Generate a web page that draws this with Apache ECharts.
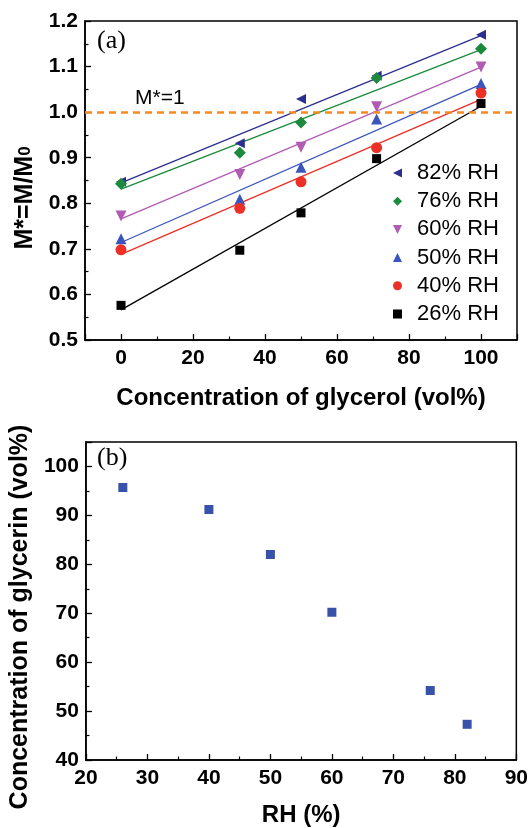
<!DOCTYPE html>
<html>
<head>
<meta charset="utf-8">
<script src="https://cdn.jsdelivr.net/npm/echarts@6/dist/echarts.min.js"></script>
<style>
html,body{margin:0;padding:0;background:#fff;}
#c{width:531px;height:828px;}
</style>
</head>
<body>
<div id="c"></div>
<script>
// Panel (a) data
const glycerol = [0, 33, 50, 71, 100];
const rh82 = [0.847, 0.932, 1.029, 1.080, 1.170];
const rh76 = [0.843, 0.911, 0.977, 1.075, 1.139];
const rh60 = [0.772, 0.863, 0.923, 1.012, 1.099];
const rh50 = [0.722, 0.809, 0.879, 0.985, 1.063];
const rh40 = [0.698, 0.789, 0.847, 0.922, 1.042];
const rh26 = [0.576, 0.697, 0.779, 0.898, 1.019];
// fitted lines: value at 0 vol% and at 100 vol%
const fitX = [0, 100];
const fit82 = [0.845, 1.168];
const fit76 = [0.831, 1.137];
const fit60 = [0.766, 1.099];
const fit50 = [0.714, 1.061];
const fit40 = [0.688, 1.028];
const fit26 = [0.566, 1.013];
const refLevel = 1.0;
// Panel (b) data
const rhValues = [26, 40, 50, 60, 76, 82];
const glycerinConc = [95.7, 91.2, 82.0, 70.2, 54.2, 47.3];

const FONT = "'Liberation Sans', Arial, sans-serif";
const SERIF = "'Liberation Serif', 'Times New Roman', serif";

function pairs(xs, ys){ return xs.map((x,i)=>[x, ys[i]]); }

const LEFT_TRI = 'path://M0,5L10,0L10,10Z';
const DOWN_TRI = 'path://M0,0L10,0L5,10Z';

const seriesDefs = [
  {name:'82% RH', vals:rh82, fit:fit82, color:'#2d2f8f', symbol:'triangle', rot:90, size:10, icon:LEFT_TRI},
  {name:'76% RH', vals:rh76, fit:fit76, color:'#1b8a3c', symbol:'diamond', rot:0, size:12, icon:'diamond'},
  {name:'60% RH', vals:rh60, fit:fit60, color:'#b05cb5', symbol:'triangle', rot:180, size:11, icon:DOWN_TRI},
  {name:'50% RH', vals:rh50, fit:fit50, color:'#3a56bd', symbol:'triangle', rot:0, size:11, icon:'triangle'},
  {name:'40% RH', vals:rh40, fit:fit40, color:'#ec2f27', symbol:'circle', rot:0, size:11, icon:'circle'},
  {name:'26% RH', vals:rh26, fit:fit26, color:'#000000', symbol:'rect', rot:0, size:9, icon:'rect'}
];

const labelStyle = {color:'#000', fontFamily:FONT, fontWeight:'bold', fontSize:21};
const commonAxis = {
  axisLine:{show:true, onZero:false, lineStyle:{color:'#000', width:1.5}},
  axisTick:{show:true, inside:true, length:6, lineStyle:{color:'#000', width:1.3}},
  minorTick:{show:true, splitNumber:2, length:3.5, lineStyle:{color:'#000', width:1.2}},
  splitLine:{show:false},
  minorSplitLine:{show:false}
};

const series = [];
seriesDefs.forEach(d=>{
  series.push({
    type:'line', name:d.name+' fit', xAxisIndex:0, yAxisIndex:0,
    data: pairs(fitX, d.fit), showSymbol:false, symbol:'none', silent:true,
    lineStyle:{color:d.color, width:1.3}, itemStyle:{color:d.color}, z:2, animation:false
  });
});
seriesDefs.forEach((d,i)=>{
  const s = {
    type:'scatter', name:d.name, xAxisIndex:0, yAxisIndex:0,
    data: pairs(glycerol, d.vals), symbol:d.symbol, symbolRotate:d.rot, symbolSize:d.size,
    itemStyle:{color:d.color, opacity:1}, z:3, animation:false
  };
  if (i === 0) {
    s.markLine = {
      silent:true, symbol:'none', animation:false,
      label:{show:false},
      lineStyle:{color:'#f58a1f', type:[7,5], width:2.6},
      data:[{yAxis:refLevel}]
    };
  }
  series.push(s);
});
series.push({
  type:'scatter', name:'b', xAxisIndex:1, yAxisIndex:1,
  data: pairs(rhValues, glycerinConc), symbol:'rect', symbolSize:9,
  itemStyle:{color:'#3752a8', opacity:1}, animation:false
});

const option = {
  backgroundColor:'#fff',
  animation:false,
  grid:[
    {left:85, top:21, width:432, height:319, show:true, borderColor:'#000', borderWidth:1.5, backgroundColor:'transparent'},
    {left:83, top:442, width:434, height:318, show:true, borderColor:'#000', borderWidth:1.5, backgroundColor:'transparent'}
  ],
  legend:{
    data: seriesDefs.map(d=>({name:d.name, icon:d.icon})),
    orient:'vertical', left:388, top:157,
    itemWidth:9, itemHeight:9, itemGap:6.2,
    textStyle:{color:'#000', fontFamily:FONT, fontSize:22, lineHeight:22, padding:[0,0,0,10]},
    selectedMode:false
  },
  xAxis:[
    Object.assign({}, commonAxis, {
      type:'value', gridIndex:0, min:-10, max:110, splitNumber:6,
      axisLabel:Object.assign({}, labelStyle, {margin:8, formatter:v=> (v%20===0 ? String(v) : '')}),
      name:'Concentration of glycerol (vol%)', nameLocation:'middle', nameGap:46,
      nameTextStyle:{color:'#000', fontFamily:FONT, fontWeight:'bold', fontSize:24}
    }),
    Object.assign({}, commonAxis, {
      type:'value', gridIndex:1, min:20, max:90, interval:10,
      axisLabel:Object.assign({}, labelStyle, {margin:8}),
      name:'RH (%)', nameLocation:'middle', nameGap:43,
      nameTextStyle:{color:'#000', fontFamily:FONT, fontWeight:'bold', fontSize:24}
    })
  ],
  yAxis:[
    Object.assign({}, commonAxis, {
      type:'value', gridIndex:0, min:0.5, max:1.2, interval:0.1,
      axisLabel:Object.assign({}, labelStyle, {margin:7, formatter:v=>v.toFixed(1)}),
      name:'M*=M/M{sub|0}', nameLocation:'middle', nameGap:47,
      nameTextStyle:{color:'#000', fontFamily:FONT, fontWeight:'bold', fontSize:25, padding:[0,35,0,0],
        rich:{sub:{fontFamily:FONT, fontWeight:'bold', fontSize:17, color:'#000'}}}
    }),
    Object.assign({}, commonAxis, {
      type:'value', gridIndex:1, min:40, max:105, interval:10,
      axisLabel:Object.assign({}, labelStyle, {margin:7, showMaxLabel:false, formatter:v=> (v%10===0 ? String(v) : '')}),
      name:'Concentration of glycerin (vol%)', nameLocation:'middle', nameGap:49,
      nameTextStyle:{color:'#000', fontFamily:FONT, fontWeight:'bold', fontSize:25, padding:[0,32,0,0]}
    })
  ],
  graphic:[
    {type:'text', left:97, top:28, style:{text:'(a)', font:'26px '+SERIF, fill:'#000'}},
    {type:'text', left:97, top:445, style:{text:'(b)', font:'26px '+SERIF, fill:'#000'}},
    {type:'text', left:135, top:88, style:{text:'M*=1', font:'21px '+FONT, fill:'#000'}}
  ],
  series: series
};

const chart = echarts.init(document.getElementById('c'), null, {renderer:'canvas'});
chart.setOption(option);
</script>
</body>
</html>
